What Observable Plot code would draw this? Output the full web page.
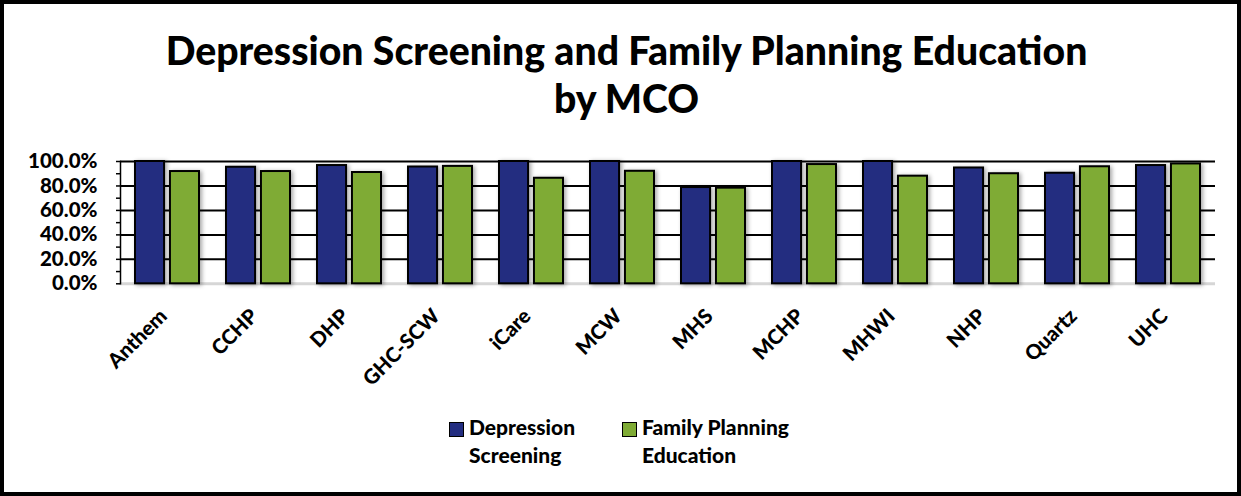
<!DOCTYPE html>
<html>
<head>
<meta charset="utf-8">
<script src="https://cdn.jsdelivr.net/npm/d3@7"></script>
<script src="https://cdn.jsdelivr.net/npm/@observablehq/plot@0.6"></script>
<style>
  html, body { margin: 0; padding: 0; background: #fff; }
  #page { position: relative; width: 1241px; height: 496px; overflow: hidden; background: #fff; font-family: Lato, "Open Sans", sans-serif; font-weight: 700; color: #000; }
  #border { position: absolute; left: 0; top: 0; width: 1241px; height: 496px; box-sizing: border-box; border: 4px solid #000; pointer-events: none; }
  .title { position: absolute; left: 0; width: 1253px; text-align: center; white-space: nowrap; line-height: 48px; font-weight: 900; }
  #chart { position: absolute; left: 0; top: 140px; }
  .leg { position: absolute; font-size: 21px; line-height: 28px; white-space: nowrap; font-weight: 900; }
  .sw { position: absolute; width: 15px; height: 15px; box-sizing: border-box; border: 1.5px solid #000; }
</style>
</head>
<body>
<div id="page">
  <div class="title" id="t1" style="top:26px"></div>
  <div class="title" id="t2" style="top:74px"></div>
  <div id="chart"></div>
  <div id="legend"></div>
  <div id="border"></div>
</div>
<script>
const titleLines = ["Depression Screening and Family Planning Education", "by MCO"];
const categories = ["Anthem", "CCHP", "DHP", "GHC-SCW", "iCare", "MCW", "MHS", "MCHP", "MHWI", "NHP", "Quartz", "UHC"];
const seriesNames = ["Depression Screening", "Family Planning Education"];
const legendLines = [["Depression", "Screening"], ["Family Planning", "Education"]];
const depressionScreening = [100.0, 95.3, 96.7, 95.5, 100.0, 100.0, 78.7, 100.0, 100.0, 94.7, 90.4, 96.7];
const familyPlanning = [91.8, 91.8, 91.0, 96.0, 86.3, 92.0, 78.2, 97.5, 88.0, 90.0, 95.7, 98.0];
const yTickValues = [0, 10, 20, 30, 40, 50, 60, 70, 80, 90, 100];
const yGridValues = [20, 40, 60, 80, 100];
const colors = ["#232d80", "#7fab35"];

const rows = categories.map((c, i) => ({mco: c, dep: depressionScreening[i], fp: familyPlanning[i]}));

// title
const titleFont = "Lato, 'Open Sans', sans-serif";
const canvas = document.createElement("canvas").getContext("2d");
canvas.font = `900 34px ${titleFont}`;
const w = canvas.measureText(titleLines[0]).width;
const titleSize = 34 * 923 / w;
document.getElementById("t1").textContent = titleLines[0];
document.getElementById("t2").textContent = titleLines[1];
for (const id of ["t1", "t2"]) document.getElementById(id).style.fontSize = titleSize + "px";

// chart
const W = 1241, H = 260, mL = 120, mR = 26, mT = 21, mB = 116.7;
const padIn = 0.3, padOut = 0.15;
const step = (W - mL - mR) / (categories.length - padIn + 2 * padOut);
const bandwidth = step * (1 - padIn);
const gap = 6;
const barInset = (bandwidth - gap) / 2 + gap;

const plot = Plot.plot({
  width: W, height: H,
  marginLeft: mL, marginRight: mR, marginTop: mT, marginBottom: mB,
  style: {fontFamily: titleFont, fontSize: "20.5px", fontWeight: "900", color: "#000", background: "transparent", overflow: "visible"},
  x: {domain: categories, paddingInner: padIn, paddingOuter: padOut, label: null},
  y: {domain: [0, 100], label: null},
  marks: [
    Plot.ruleY(yGridValues, {stroke: "#000", strokeWidth: 2}),
    Plot.ruleY([0], {stroke: "#d6d6d6", strokeWidth: 3}),
    Plot.barY(rows, {x: "mco", y: "dep", fill: colors[0], stroke: "#000", strokeWidth: 2, insetRight: barInset}),
    Plot.barY(rows, {x: "mco", y: "fp", fill: colors[1], stroke: "#000", strokeWidth: 2, insetLeft: barInset}),
    Plot.frame({anchor: "left", stroke: "#000", strokeWidth: 1.5}),
    Plot.axisY({ticks: yTickValues, tickSize: 4, tickPadding: 19, tickFormat: d => d % 20 === 0 ? d.toFixed(1) + "%" : "", stroke: "#000", strokeWidth: 1.5}),
    Plot.axisX({tickRotate: -45, tickSize: 0, tickPadding: 29, dx: -4})
  ]
});
document.getElementById("chart").appendChild(plot);
d3.select(plot).selectAll("g[aria-label=bar]").style("filter", "drop-shadow(2px 1px 2px rgba(0,0,0,0.35))");

// legend
const legend = document.getElementById("legend");
const legX = [449, 622];
legendLines.forEach((lines, i) => {
  const sw = document.createElement("div");
  sw.className = "sw";
  sw.style.left = legX[i] + "px";
  sw.style.top = "422px";
  sw.style.background = colors[i];
  sw.title = seriesNames[i];
  legend.appendChild(sw);
  const t = document.createElement("div");
  t.className = "leg";
  t.style.left = (legX[i] + 20) + "px";
  t.style.top = "413px";
  t.innerHTML = lines.join("<br>");
  legend.appendChild(t);
});
</script>
</body>
</html>
